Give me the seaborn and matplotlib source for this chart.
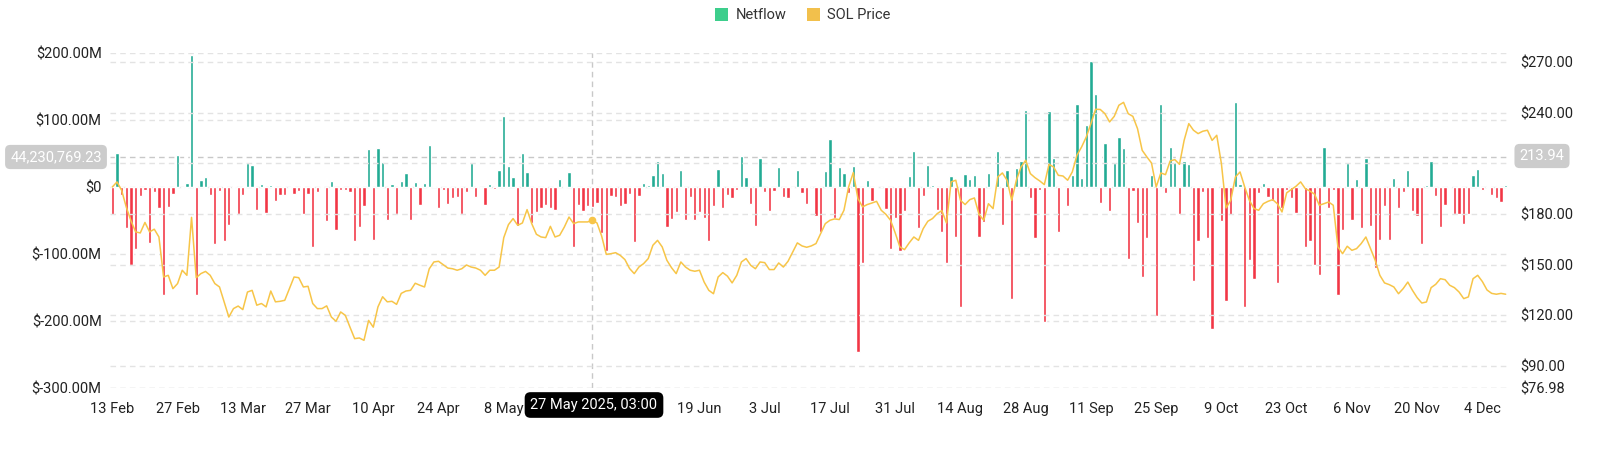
import numpy as np
import pandas as pd
import matplotlib
matplotlib.use("Agg")
import matplotlib.pyplot as plt
from matplotlib.patches import Patch
from matplotlib.ticker import FuncFormatter
import seaborn as sns

# daily netflow (in $M), 13 Feb 2025 -> 9 Dec 2025
netflow_m = [
    -42, 51, -12, -61, -116, -92, -13, -5, -84, -8, -31, -162, -30, -11, 47, -1.5, 6, 197, -161, 10,
    15, -12, -85, -6, -81, -57, -1.5, -40, -12, 36, 32, -34, 4, -39, 2, -21, -12, -12, -1.5, -11,
    -6, -40, -10, -90, -8, -1, -51, 9, -64, -4, -5, -7, -81, -60, -29, 56, -80, 58, 37, -49,
    4, -40, 9, 21, -50, 7, -27, 6, 63, 1.5, -31, -4, -26, -17, -15, -41, -7, 36, -15, -1.5,
    -27, 4, -3, 25, 105, 31, 14, -58, 51, 22, -54, -37, -31, -27, -32, -34, 11, -2, 22, -90,
    -27, -36, -28, -30, -24, -69, -95, -13, -15, -28, -26, -11, -82, -13, 5, 2, 17, 38, 20, -60,
    -48, -38, 25, -50, -15, -49, -37, -47, -81, -28, 26, -31, -12, -16, -4, 46, 14, -25, -59, 43,
    -7, -36, -6, 30, -15, -16, -1.5, 25, -9, -25, -1, -43, -68, 24, 71, -47, 30, 20, -9, 31,
    -246, -114, 10, -21, -1, -1, -33, -93, -46, -96, -36, 16, 54, -61, -14, 32, 2, -35, -67, -113,
    16, -75, -179, 19, 12, 18, -75, -52, 20, 1.5, 54, -57, 25, -168, 28, 38, 114, -16, -77, -5,
    -201, 113, 43, -67, -2, -28, 17, 124, 13, 92, 187, 139, -24, 66, -36, 35, 75, 58, -107, -6,
    -54, -135, -76, 17, -192, 123, -9, 59, 37, -40, 39, 34, -140, -81, -8, -76, -212, -1.5, -51, -170,
    -42, 127, 4, -179, -109, -138, -9, 6, -15, -21, -144, -32, -5, -16, -39, -1.5, -90, -81, -116, -131,
    60, -32, -4, -162, -65, 36, -50, 12, -61, 43, -59, -121, -80, -28, -80, 13, -31, -7, 25, -36,
    -44, -86, 2, 38, -14, -60, -27, -2, -41, -41, -56, -40, 18, 26, -4, -1, -12, -16, -22, 3,
]

# SOL close price ($)
sol_price = [
    196, 199, 194, 184, 176, 169.4, 168.8, 175, 169.4, 171, 166.4, 142.7, 143.7, 135.8, 138.8, 146.7,
    143.7, 178, 142.3, 144.7, 146, 143.7, 138.8, 136.8, 128, 119,
    124, 125.5, 123.4, 133.8, 134.8, 126, 127, 125, 134.4, 128, 128.3, 128.9, 135.8, 142.7, 142.3,
    136.8, 137.2, 127, 124, 124, 125.6, 119, 116.5, 122, 120, 113,
    106.2, 106.6, 105.2, 117, 113, 125, 131, 128, 128.3, 126.5, 133, 134.4, 134.8, 139, 137.8,
    136.8, 147.5, 151.6, 152, 150, 148, 147.6, 146.7, 147.6, 149.8, 148.6,
    148, 146.7, 143.7, 146.7, 146.7, 148.6, 166, 173.7, 177.3, 173.3, 174.7, 182.6, 174.3, 168,
    166.4, 166, 172.7, 166.4, 167.4, 172.3, 178.2, 174.3, 175.3, 175.3, 175.3, 176.3, 174.7,
    167, 156.1, 156.5, 157.1, 155.5, 153, 147.7, 144.7, 148.6, 150.6, 153.6, 161.5, 164.4, 160.5,
    152.6, 148.2, 144.7, 151.6, 148.6, 146.7, 146.1, 146.7, 139.7, 134.8, 132.8, 142.7, 145.3,
    143.2, 139.2, 143.7, 151.6, 153.6, 149.6, 147.6, 151.6, 151.2, 147.1, 147.1, 151, 148.6, 152,
    157.5, 162.9, 161.1, 160.3, 161.1, 162.5, 168.4, 174.3, 176.3, 177.1, 176.7, 182.2, 196,
    204.5, 189.1, 184.2, 185.6, 186.5, 187.5, 182.2, 179.8, 176.3, 168.8, 160.5, 158.9, 162.9,
    166.4, 164.4, 171.3, 175.7, 177.3, 180.2, 182, 174.7, 199, 200, 188.1, 185.6, 188.5, 189.5,
    179.7, 176.3, 186.1, 183.2, 201.9, 204.3, 200, 188.1, 200, 207.8, 211.8, 203.9, 201.5, 199.6,
    197.4, 209.4, 207.8, 202.9, 202.5, 200, 204.9, 214.8, 219.7, 225.6, 233.5, 242,
    241.9, 239.4, 234.5, 237.8, 244.4, 246.1, 239.4, 237.8, 230.5, 217.7, 213.8, 210.2, 196, 204.3,
    203.3, 211.4, 212.2, 209.4, 223.6, 233.5, 229.6, 227.6, 229, 229.6, 223.6, 226.6, 209.8,
    183.6, 188.1, 201.9, 204.9, 196, 188.1, 183.2, 182.2, 186.1, 187.5, 188.5, 186.1, 181.2, 192.5,
    194.5, 196.4, 199, 195, 193.6, 191.7, 185.2, 186.1, 187.1, 185.2, 160.5, 156.5, 160.9,
    158.5, 159.5, 162.5, 166.4, 159.5, 152.6, 143.7, 139.2, 138.2, 136.8, 132.8, 135.8, 139.7, 134.8,
    130.5, 127.3, 127.9, 136.4, 138.4, 141.7, 141.1, 137.8, 136.4, 133.8, 129.9, 130.9, 141.7, 143.7,
    140, 135, 133, 132.5, 133, 132.5,
]

dates = pd.date_range("2025-02-13", periods=len(netflow_m), freq="D")
left_ticks = [-300, -200, -100, 0, 100, 200]
right_ticks = [76.98, 90, 120, 150, 180, 210, 240, 270]

GREEN = "#22ab94"
RED = "#f23645"
YELLOW = "#f7c548"
GRID = "#e3e3e3"
TXT = "#222222"

df = pd.DataFrame({"date": dates, "netflow": netflow_m, "price": sol_price})
df["day"] = (df["date"] - df["date"].iloc[0]).dt.days
df["dir"] = np.where(df["netflow"] >= 0, "in", "out")

sns.set_theme(style="white")
plt.rcParams["font.family"] = ["Roboto", "DejaVu Sans"]

fig = plt.figure(figsize=(16, 4.54), dpi=100)
ax = fig.add_axes([110 / 1600, 66 / 454, 1398 / 1600, 335.3 / 454])

sns.barplot(data=df, x="day", y="netflow", hue="dir", palette={"in": GREEN, "out": RED},
            native_scale=True, width=0.7, dodge=False, legend=False, errorbar=None,
            saturation=1, ax=ax, zorder=2)

ax.set_xlim(-0.5, len(df) - 0.5)
ax.set_ylim(-300, 200)
ax.set_yticks(left_ticks)
ax.yaxis.set_major_formatter(FuncFormatter(lambda v, p: "$0" if v == 0 else f"${v:.2f}M"))
ax.grid(axis="y", color=GRID, linestyle=(0, (4, 3)), linewidth=1, zorder=0)
ax.grid(axis="x", visible=False)

# hover crosshair at 27 May
hover = 103

# x labels every 14 days; the two under the date tooltip are hidden, as in the original
tick_days = df["day"].iloc[::14]
tick_labels = [d.strftime("%-d %b") for d in df["date"].iloc[::14]]
tick_labels = ["" if abs(t - hover) < 10 else lab for t, lab in zip(tick_days, tick_labels)]
ax.set_xticks(tick_days)
ax.set_xticklabels(tick_labels)
ax.set_xlabel("")
ax.set_ylabel("")
for s in ax.spines.values():
    s.set_visible(False)
ax.tick_params(axis="both", length=0, labelsize=10.5, colors=TXT)
ax.tick_params(axis="x", pad=10)
ax.tick_params(axis="y", pad=6)

# price line on the right axis
ax2 = ax.twinx()
sns.lineplot(data=df, x="day", y="price", color=YELLOW, linewidth=1.1, ax=ax2, zorder=3)
ax2.set_ylim(76.98, 275.5)
ax2.set_yticks(right_ticks)
ax2.set_yticklabels(["" if t == 210 else f"${t:.2f}" for t in right_ticks])
ax2.grid(axis="y", color=GRID, linestyle=(0, (4, 3)), linewidth=1)
ax2.set_ylabel("")
for s in ax2.spines.values():
    s.set_visible(False)
ax2.tick_params(axis="y", length=0, labelsize=10.5, colors=TXT, pad=9)

ax.axvline(hover, color="#c8c8c8", linestyle=(0, (4, 3)), linewidth=1, zorder=1)
ax.axhline(44.23, color="#c8c8c8", linestyle=(0, (4, 3)), linewidth=1, zorder=1)
ax2.scatter([hover], [sol_price[hover]], s=20, color=YELLOW, zorder=4)

fig.text(56 / 1600, 1 - 157 / 454, "44,230,769.23", ha="center", va="center", fontsize=10.5,
         color="white", bbox=dict(boxstyle="round,pad=0.35", fc="#cccccc", ec="none"))
fig.text(1542 / 1600, 1 - 156 / 454, "213.94", ha="center", va="center", fontsize=10.5,
         color="white", bbox=dict(boxstyle="round,pad=0.35", fc="#cccccc", ec="none"))
fig.text(594 / 1600, 1 - 405 / 454, "27 May 2025, 03:00", ha="center", va="center", fontsize=10.5,
         color="white", bbox=dict(boxstyle="round,pad=0.4", fc="black", ec="none"))

handles = [Patch(facecolor="#3dce8c", edgecolor="none", label="Netflow"),
           Patch(facecolor="#f2c04c", edgecolor="none", label="SOL Price")]
fig.legend(handles=handles, loc="center", bbox_to_anchor=(803 / 1600, 1 - 15 / 454), ncol=2,
           frameon=False, fontsize=10.5, handlelength=0.9, handleheight=1.0,
           handletextpad=0.5, columnspacing=1.4, labelcolor="#333333")

fig.savefig("out.png", dpi=100)
